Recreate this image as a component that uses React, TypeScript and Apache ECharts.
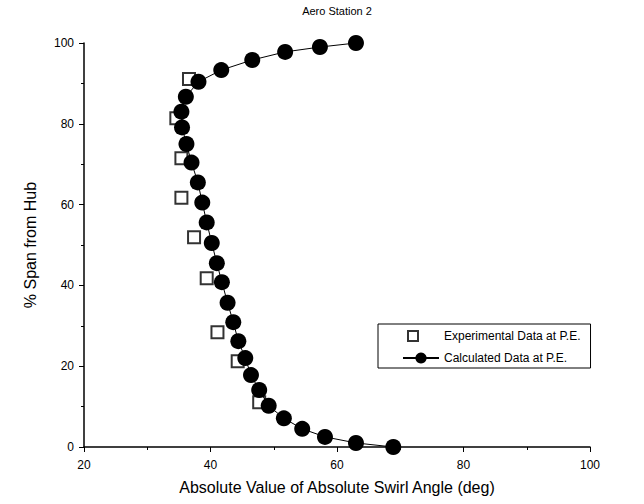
import React, { useEffect, useRef } from "react";
import * as echarts from "echarts";

const titleText = "Aero Station 2";
const xAxisName = "Absolute Value of Absolute Swirl Angle (deg)";
const yAxisName = "% Span from Hub";
const seriesNames = ["Experimental Data at P.E.", "Calculated Data at P.E."];

const expAngle = [36.6, 34.6, 35.4, 35.4, 37.4, 39.4, 41.1, 44.3, 47.7];
const expSpan = [91.1, 81.4, 71.5, 61.7, 51.9, 41.8, 28.4, 21.2, 11.1];

const calcAngle = [
  63.0, 57.3, 51.8, 46.6, 41.7, 38.1, 36.1, 35.4, 35.5, 36.2, 37.0, 38.0, 38.7,
  39.4, 40.2, 41.0, 41.8, 42.7, 43.6, 44.4, 45.5, 46.4, 47.7, 49.2, 51.6, 54.5,
  58.1, 63.0, 68.9,
];
const calcSpan = [
  100, 99.0, 97.8, 95.8, 93.3, 90.4, 86.7, 83.0, 79.1, 75.0, 70.4, 65.5, 60.5,
  55.6, 50.5, 45.5, 40.8, 35.7, 30.9, 26.2, 22.0, 17.8, 14.1, 10.2, 7.1, 4.5,
  2.5, 1.0, 0,
];

const FONT = "Liberation Sans, Arial, sans-serif";

export default function App() {
  const ref = useRef<HTMLDivElement>(null);
  useEffect(() => {
    if (!ref.current) return;
    const chart = echarts.init(ref.current, undefined, { renderer: "svg" });
    const expData = expAngle.map((x, i) => [x, expSpan[i]]);
    const calcData = calcAngle.map((x, i) => [x, calcSpan[i]]);
    chart.setOption({
      animation: false,
      backgroundColor: "#fff",
      textStyle: { fontFamily: FONT, color: "#000" },
      title: {
        text: titleText,
        left: 337,
        textAlign: "center",
        top: 5,
        padding: 0,
        textStyle: { fontFamily: FONT, fontSize: 11, fontWeight: "normal", color: "#000" },
      },
      grid: { left: 84, right: 54, top: 43, bottom: 57 },
      legend: {
        orient: "vertical",
        left: 378,
        top: 324,
        borderColor: "#000",
        borderWidth: 1,
        borderRadius: 0,
        padding: [4, 10, 4, 24],
        itemGap: 8,
        itemWidth: 36,
        itemHeight: 14,
        textStyle: { fontFamily: FONT, fontSize: 12, color: "#000" },
        data: [
          { name: seriesNames[0], icon: "path://M5,2H15V12H5Z M0,0 M36,14" },
          { name: seriesNames[1] },
        ],
      },
      xAxis: {
        type: "value",
        min: 20,
        max: 100,
        interval: 20,
        name: xAxisName,
        nameLocation: "middle",
        nameGap: 32,
        nameTextStyle: { fontFamily: FONT, fontSize: 16, color: "#000" },
        axisLine: { show: true, onZero: false, lineStyle: { color: "#000", width: 1.5 } },
        axisTick: { show: true, length: 5, lineStyle: { color: "#000" } },
        minorTick: { show: true, splitNumber: 2, length: 3, lineStyle: { color: "#000" } },
        splitLine: { show: false },
        axisLabel: { fontFamily: FONT, fontSize: 12, color: "#000", margin: 12 },
      },
      yAxis: {
        type: "value",
        min: 0,
        max: 100,
        interval: 20,
        name: yAxisName,
        nameLocation: "middle",
        nameGap: 46,
        nameTextStyle: { fontFamily: FONT, fontSize: 16, color: "#000" },
        axisLine: { show: true, onZero: false, lineStyle: { color: "#000", width: 1.5 } },
        axisTick: { show: true, length: 5, lineStyle: { color: "#000" } },
        minorTick: { show: true, splitNumber: 2, length: 3, lineStyle: { color: "#000" } },
        splitLine: { show: false },
        axisLabel: { fontFamily: FONT, fontSize: 12, color: "#000", margin: 10 },
      },
      series: [
        {
          name: seriesNames[0],
          type: "scatter",
          data: expData,
          symbol: "rect",
          symbolSize: 12,
          itemStyle: { color: "#fff", borderColor: "#000", borderWidth: 2 },
        },
        {
          name: seriesNames[1],
          type: "line",
          data: calcData,
          symbol: "circle",
          symbolSize: 16,
          showAllSymbol: true,
          lineStyle: { color: "#000", width: 1 },
          itemStyle: { color: "#000" },
        },
      ],
    });
    return () => chart.dispose();
  }, []);
  return (
    <div
      ref={ref}
      style={{ position: "absolute", left: 0, top: 0, width: 644, height: 504 }}
    />
  );
}
